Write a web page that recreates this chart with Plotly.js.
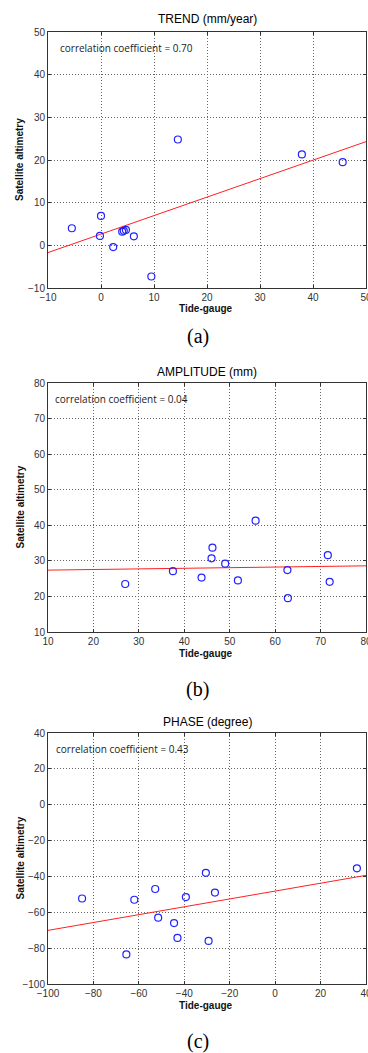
<!DOCTYPE html>
<html>
<head>
<meta charset="utf-8">
<script src="https://cdn.plot.ly/plotly-3.0.1.min.js"></script>
<style>html,body{margin:0;padding:0;background:#fff;}#chart{width:368px;height:1053px;}</style>
</head>
<body>
<div id="chart"></div>
<script>
// ---- data ----
const trendTide = [-5.5, 0.0, -0.2, 2.3, 4.0, 4.3, 4.7, 6.2, 9.5, 14.5, 37.9, 45.6];
const trendSat  = [4.0, 6.9, 2.2, -0.4, 3.2, 3.4, 3.6, 2.1, -7.3, 24.8, 21.3, 19.5];
const trendFitX = [-10, 50];
const trendFitY = [-1.7, 24.3];

const ampTide = [27.0, 37.5, 43.8, 46.0, 46.2, 49.0, 51.8, 55.7, 62.7, 62.8, 71.6, 72.0];
const ampSat  = [23.5, 27.1, 25.3, 30.7, 33.7, 29.2, 24.5, 41.3, 27.4, 19.5, 31.6, 24.1];
const ampFitX = [10, 80];
const ampFitY = [27.4, 28.6];

const phaseTide = [-85.0, -65.5, -62.0, -52.8, -51.5, -44.5, -43.0, -39.3, -30.5, -29.3, -26.5, 36.0];
const phaseSat  = [-52.3, -83.5, -53.0, -47.0, -63.0, -66.0, -74.3, -51.5, -38.0, -76.0, -49.0, -35.5];
const phaseFitX = [-100, 40];
const phaseFitY = [-70.1, -39.4];

const panelTitles = ["TREND (mm/year)", "AMPLITUDE (mm)", "PHASE (degree)"];
const corrTexts = ["correlation coefficient = 0.70", "correlation coefficient = 0.04", "correlation coefficient = 0.43"];
const captions = ["(a)", "(b)", "(c)"];
const xLabel = "Tide-gauge";
const yLabel = "Satellite altimetry";

// ---- layout helpers ----
const W = 368, H = 1053;
const px = v => v / W;
const py = v => 1 - v / H;

const panels = [
  {top: 32, bottom: 288, xr: [-10, 50], yr: [-10, 50], dx: 10, dy: 10, corrX: 58, corrY: 48, titleY: 19, capY: 336},
  {top: 383, bottom: 632, xr: [10, 80], yr: [10, 80], dx: 10, dy: 10, corrX: 53, corrY: 399, titleY: 372, capY: 689},
  {top: 733, bottom: 984, xr: [-100, 40], yr: [-100, 40], dx: 20, dy: 20, corrX: 54, corrY: 749, titleY: 722, capY: 1041}
];

const series = [
  [trendTide, trendSat, trendFitX, trendFitY],
  [ampTide, ampSat, ampFitX, ampFitY],
  [phaseTide, phaseSat, phaseFitX, phaseFitY]
];

const traces = [];
const layout = {
  width: W, height: H,
  margin: {l: 0, r: 0, t: 0, b: 0},
  paper_bgcolor: '#fff', plot_bgcolor: '#fff',
  showlegend: false,
  annotations: []
};

const tickFont = {family: 'Liberation Sans, Arial, sans-serif', size: 10, color: '#333'};

panels.forEach((p, i) => {
  const n = i === 0 ? '' : String(i + 1);
  const xa = 'xaxis' + n, ya = 'yaxis' + n;
  const axCommon = {
    showline: true, linecolor: '#333', linewidth: 1, mirror: 'allticks',
    ticks: 'inside', ticklen: 3, tickcolor: '#333',
    showgrid: true, gridcolor: '#666', griddash: '1px,2px', gridwidth: 1,
    zeroline: false, tickfont: tickFont, fixedrange: true,
    ticklabeloverflow: 'allow'
  };
  layout[xa] = Object.assign({}, axCommon, {
    domain: [px(48), px(366)], range: p.xr, dtick: p.dx, tick0: 0,
    anchor: 'y' + n
  });
  layout[ya] = Object.assign({}, axCommon, {
    domain: [py(p.bottom), py(p.top)], range: p.yr, dtick: p.dy, tick0: 0,
    anchor: 'x' + n
  });
  const [tx, sy, fx, fy] = series[i];
  traces.push({
    x: fx, y: fy, xaxis: 'x' + n, yaxis: 'y' + n, mode: 'lines', type: 'scatter',
    line: {color: '#ff2020', width: 1}, hoverinfo: 'skip'
  });
  traces.push({
    x: tx, y: sy, xaxis: 'x' + n, yaxis: 'y' + n, mode: 'markers', type: 'scatter',
    marker: {symbol: 'circle-open', size: 7, color: '#2222ff', line: {width: 1.2, color: '#2222ff'}},
    cliponaxis: false
  });

  layout.annotations.push({
    text: panelTitles[i], xref: 'paper', yref: 'paper', x: px(207), y: py(p.titleY),
    xanchor: 'center', yanchor: 'middle', showarrow: false,
    font: {family: 'Liberation Sans, Arial, sans-serif', size: 12, color: '#000'}
  });
  layout.annotations.push({
    text: corrTexts[i], xref: 'paper', yref: 'paper', x: px(p.corrX), y: py(p.corrY),
    xanchor: 'left', yanchor: 'middle', showarrow: false,
    font: {family: 'Open Sans, sans-serif', size: 10, color: '#222'}
  });
  layout.annotations.push({
    text: '<b>' + xLabel + '</b>', xref: 'paper', yref: 'paper', x: px(206), y: py(p.bottom + 21),
    xanchor: 'center', yanchor: 'middle', showarrow: false,
    font: {family: 'Liberation Sans, Arial, sans-serif', size: 10, color: '#111'}
  });
  layout.annotations.push({
    text: '<b>' + yLabel + '</b>', xref: 'paper', yref: 'paper', x: px(20), y: py((p.top + p.bottom) / 2),
    xanchor: 'center', yanchor: 'middle', showarrow: false, textangle: -90,
    font: {family: 'Liberation Sans, Arial, sans-serif', size: 10, color: '#111'}
  });
  layout.annotations.push({
    text: captions[i], xref: 'paper', yref: 'paper', x: px(198), y: py(p.capY),
    xanchor: 'center', yanchor: 'middle', showarrow: false,
    font: {family: 'Liberation Serif, Times New Roman, serif', size: 20, color: '#000'}
  });
});

Plotly.newPlot('chart', traces, layout, {displayModeBar: false, staticPlot: true});
</script>
</body>
</html>
